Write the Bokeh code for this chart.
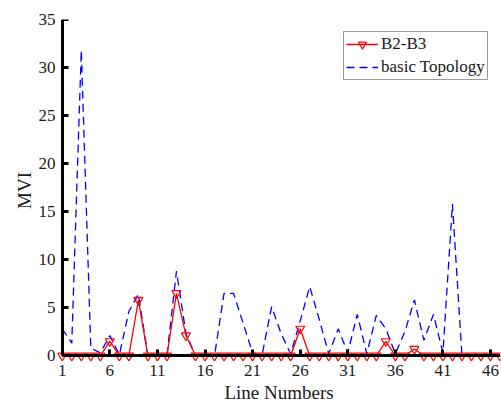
from bokeh.plotting import figure
from bokeh.models import (Range1d, FixedTicker, ColumnDataSource, Legend, LegendItem,
                          LinearAxis)
from bokeh.embed import file_html
from bokeh.resources import INLINE

# ---- data ----
line_numbers = list(range(1, 48))
basic_topology = [2.8, 1.3, 31.8, 0.8, 0.3, 2.1, 0.1, 4.6, 6.4, 0, 0, 0, 8.8, 2.3, 0, 0, 0,
                  6.5, 6.5, 3.4, 0.3, 0.1, 5.1, 2.3, 0.2, 3.6, 7.2, 3.8, 0.2, 2.8, 0.3, 4.3,
                  0.2, 4.2, 2.8, 0.2, 2.5, 5.8, 1.6, 4.3, 0.3, 15.8, 0, 0, 0, 0, 0]
b2_b3 = [0, 0, 0, 0, 0, 1.5, 0, 0, 5.8, 0, 0, 0, 6.5, 2.1, 0, 0, 0, 0, 0, 0, 0, 0, 0, 0,
         0, 2.8, 0, 0, 0, 0, 0, 0, 0, 0, 1.5, 0, 0, 0.7, 0, 0, 0, 0, 0, 0, 0, 0, 0]
x_ticks = [1, 6, 11, 16, 21, 26, 31, 36, 41, 46]
y_ticks = [0, 5, 10, 15, 20, 25, 30, 35]

FONT = "Liberation Serif"
TXT = "#1a1a1a"

src = ColumnDataSource(dict(x=line_numbers, basic=basic_topology, b23=b2_b3))

p = figure(width=501, height=407, output_backend="svg", toolbar_location=None,
           x_range=Range1d(0.5, 47.05), y_range=Range1d(-0.6, 35),
           min_border_left=57, min_border_top=19, min_border_right=1, min_border_bottom=46)
p.outline_line_color = None
p.grid.visible = False
p.background_fill_color = "white"

r_basic = p.line("x", "basic", source=src, line_color="#0000FF", line_width=1.3,
                 line_dash="8 5")
r_red_line = p.line("x", "b23", source=src, line_color="#FF0000", line_width=1.3)
r_red_mark = p.scatter("x", "b23", source=src, marker="inverted_triangle", size=9,
                       line_color="#FF0000", fill_color=None, line_width=1.2)

# standard axes: only labels (tick labels + axis titles)
for ax in (p.xaxis[0], p.yaxis[0]):
    ax.axis_line_color = None
    ax.major_tick_line_color = None
    ax.major_tick_in = 0
    ax.major_tick_out = 0
    ax.minor_tick_line_color = None
    ax.major_label_text_font = FONT
    ax.major_label_text_font_size = "17px"
    ax.major_label_text_color = TXT
    ax.axis_label_text_font = FONT
    ax.axis_label_text_font_size = "19px"
    ax.axis_label_text_font_style = "normal"
    ax.axis_label_text_color = TXT

p.xaxis[0].ticker = FixedTicker(ticks=x_ticks)
p.yaxis[0].ticker = FixedTicker(ticks=y_ticks)
p.xaxis[0].axis_label = "Line Numbers"
p.yaxis[0].axis_label = "MVI"
p.xaxis[0].major_label_standoff = 3
p.xaxis[0].axis_label_standoff = 3
p.yaxis[0].major_label_standoff = 2
p.yaxis[0].axis_label_standoff = 1

# axis lines and inward ticks placed at the data origin (0 and line 1)
def line_axis(ticks, loc, bounds):
    a = LinearAxis(ticker=FixedTicker(ticks=ticks), fixed_location=loc, bounds=bounds)
    a.axis_line_width = 3
    a.axis_line_color = "black"
    a.major_tick_line_width = 3
    a.major_tick_in = 6
    a.major_tick_out = 0
    a.minor_tick_line_color = None
    a.major_label_text_color = None
    a.major_label_text_font_size = "1px"
    return a

p.add_layout(line_axis(x_ticks, 0, (1, 47.05)), "below")
p.add_layout(line_axis(y_ticks, 1, (0, 35)), "left")

legend = Legend(items=[LegendItem(label="B2-B3", renderers=[r_red_line, r_red_mark]),
                       LegendItem(label="basic Topology", renderers=[r_basic])],
                location=(286, 281))
legend.border_line_color = "#333333"
legend.border_line_width = 1.5
legend.background_fill_color = "white"
legend.background_fill_alpha = 1
legend.label_text_font = FONT
legend.label_text_font_size = "17px"
legend.label_text_color = TXT
legend.glyph_width = 32
legend.glyph_height = 20
legend.label_height = 20
legend.label_standoff = 3
legend.spacing = 3
legend.padding = 2
legend.margin = 0
p.add_layout(legend, "center")

open("out.html", "w").write(file_html(p, INLINE))
